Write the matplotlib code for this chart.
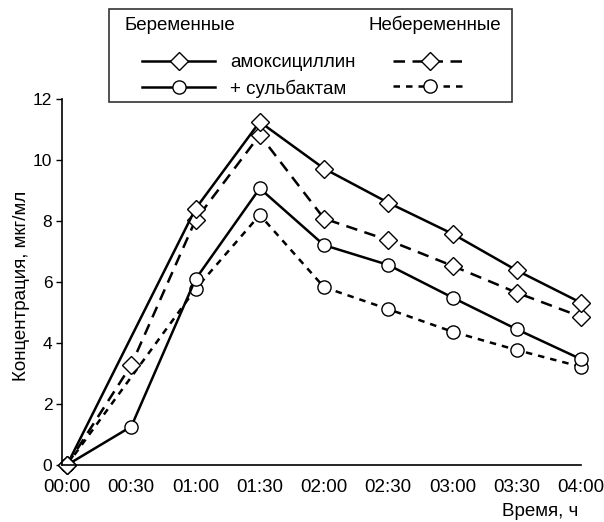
import numpy as np
import matplotlib
matplotlib.use("Agg")
import matplotlib.pyplot as plt
from matplotlib.patches import Rectangle

plt.rcParams["font.family"] = ["Liberation Sans", "DejaVu Sans"]
plt.rcParams["font.size"] = 13.5

# time points (every 30 min)
times = ["00:00", "00:30", "01:00", "01:30", "02:00", "02:30", "03:00", "03:30", "04:00"]

# concentrations, mcg/ml (nan = no measurement)
preg_amox = [0, np.nan, 8.4, 11.25, 9.72, 8.6, 7.58, 6.38, 5.32]
preg_sulb = [0, 1.26, 6.09, 9.07, 7.21, 6.56, 5.49, 4.45, 3.47]
nonpreg_amox = [0, 3.28, 8.03, 10.82, 8.08, 7.37, 6.53, 5.65, 4.86]
nonpreg_sulb = [0, np.nan, 5.77, 8.2, 5.83, 5.11, 4.37, 3.77, 3.22]

fig = plt.figure(figsize=(6.04, 5.22), dpi=100)
ax = fig.add_axes([62 / 604, 57 / 522, (581 - 62) / 604, (465 - 99) / 522])

x = np.arange(len(times))

def draw(vals, marker, ls, ms):
    y = np.array(vals, dtype=float)
    ok = ~np.isnan(y)
    line, = ax.plot(x[ok], y[ok], color="black", lw=1.8, marker=marker, ms=ms,
                    mfc="white", mec="black", mew=1.0, clip_on=False)
    if ls is not None:
        line.set_dashes(ls)
    return line

h_ns = draw(nonpreg_sulb, "o", (2.6, 2.4), 9.5)
h_ps = draw(preg_sulb, "o", None, 9.5)
h_na = draw(nonpreg_amox, "D", (4.6, 3.0), 8.7)
h_pa = draw(preg_amox, "D", None, 8.7)

ax.set_xlim(-0.078, 8)
ax.set_ylim(0, 12)
ax.set_xticks(x)
ax.set_xticklabels(times)
ax.set_yticks(np.arange(0, 13, 2))
ax.tick_params(axis="x", length=0, pad=10, labelsize=13.5)
ax.tick_params(axis="y", length=4, width=1, direction="out", pad=3, labelsize=12.5)
for s in ["top", "right"]:
    ax.spines[s].set_visible(False)
for s in ["left", "bottom"]:
    ax.spines[s].set_linewidth(1.2)

ax.set_ylabel("Концентрация, мкг/мл")
ax.yaxis.set_label_coords(-0.062, 0.49)
fig.text(578 / 604, 1 - 511 / 522, "Время, ч", ha="right", va="center")

# legend
fig.add_artist(Rectangle((109 / 604, 1 - 102 / 522), (512 - 109) / 604, 93 / 522,
                         transform=fig.transFigure, fill=False, edgecolor="#333333", lw=1.2))
fig.text(124 / 604, 1 - 25 / 522, "Беременные", ha="left", va="center")
fig.text(501 / 604, 1 - 25 / 522, "Небеременные", ha="right", va="center")
fig.legend([h_pa, h_ps, h_na, h_ns], ["амоксициллин", "+ сульбактам", "", ""],
           ncol=2, loc="upper left", bbox_to_anchor=(142 / 604, 1 - 54 / 522),
           frameon=False, handlelength=3.9, handletextpad=0.8, columnspacing=2.0,
           labelspacing=0.45, borderpad=0, borderaxespad=0)

fig.savefig("out.png", dpi=100)
